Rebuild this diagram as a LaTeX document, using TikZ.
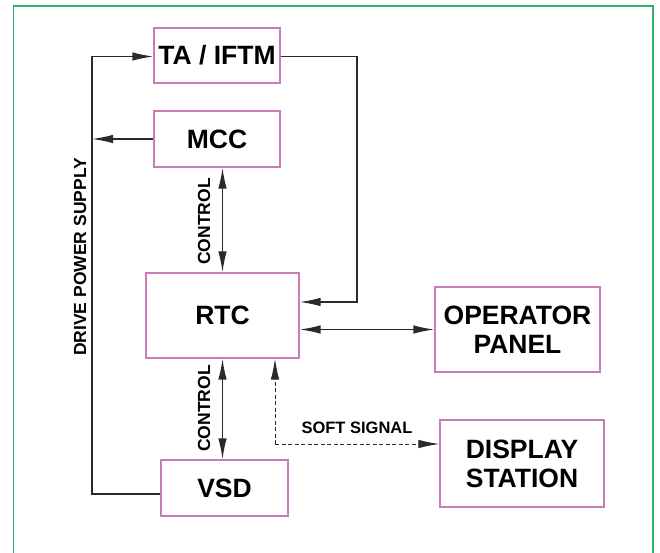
\documentclass[tikz,border=0pt]{standalone}
\usepackage{fontspec}
\setmainfont{Liberation Sans}
\usetikzlibrary{arrows.meta}
\definecolor{boxpink}{HTML}{C97DB8}
\definecolor{framegreen}{HTML}{2EB36C}
\definecolor{linegray}{HTML}{2A2A2A}
\begin{document}
\begin{tikzpicture}[x=1pt,y=-1pt,
  blk/.style={draw=boxpink,line width=1.3pt,fill=white,inner sep=0pt,align=center,
    font=\fontsize{26.5}{29}\selectfont\bfseries},
  conn/.style={draw=linegray,line width=1.4pt},
  tip/.style={-{Latex[length=21pt,width=8.5pt]}},
  tips/.style={{Latex[length=21pt,width=8.5pt]}-{Latex[length=21pt,width=8.5pt]}},
  lbl/.style={font=\fontsize{17.5}{20}\selectfont\bfseries}
]
\useasboundingbox (0,0) rectangle (660,553);
\fill[white] (0,0) rectangle (660,553);
\draw[framegreen,line width=1.8pt] (13.5,556) -- (13.5,6) -- (653,6) -- (653,556);

\node[blk,minimum width=126pt,minimum height=55pt] (ta) at (217,55.5) {TA / IFTM};
\node[blk,minimum width=126pt,minimum height=56pt] (mcc) at (217,139) {MCC};
\node[blk,minimum width=153pt,minimum height=85pt] (rtc) at (222.5,315.5) {RTC};
\node[blk,minimum width=127pt,minimum height=56pt] (vsd) at (224.5,488) {VSD};
\node[blk,minimum width=165pt,minimum height=85pt] (op) at (517.5,329.5) {OPERATOR\\PANEL};
\node[blk,minimum width=164pt,minimum height=87pt] (ds) at (522,463.5) {DISPLAY\\STATION};

\coordinate (lb) at (92,494);
\coordinate (lt) at (92,56.5);
\coordinate (tr) at (357,56.5);
\coordinate (rr) at (357,302);
\coordinate (ss) at (275,444);

% drive power supply
\draw[conn,tip] (vsd.west |- lb) -- (lb) -- (lt) -- (ta.west |- lt);
\draw[conn,tip] (mcc.west) -- (mcc.west -| lt);
% TA/IFTM to RTC
\draw[conn,tip] (ta.east |- tr) -- (tr) -- (rr) -- (rr -| rtc.east);
% control links
\draw[conn,tips] (rtc.north) -- (rtc.north |- mcc.south);
\draw[conn,tips] (rtc.south) -- (rtc.south |- vsd.north);
% operator panel
\draw[conn,tips] (op.west -| rtc.east) -- (op.west);
% soft signal
\draw[conn,line width=1pt,dash pattern=on 4pt off 2.5pt,tip] (ss) -- (ss |- rtc.south);
\draw[conn,line width=1pt,dash pattern=on 4pt off 2.5pt,tip] (ss) -- (ss -| ds.west);

\node[lbl,rotate=90] (dps) at (80,257) {DRIVE POWER SUPPLY};
\node[lbl,rotate=90] (c1) at (204,221.5) {CONTROL};
\node[lbl,rotate=90] (c2) at (204,408.5) {CONTROL};
\node[lbl,font=\fontsize{16.5}{19}\selectfont\bfseries] (sst) at (357,428) {SOFT SIGNAL};
\end{tikzpicture}
\end{document}
